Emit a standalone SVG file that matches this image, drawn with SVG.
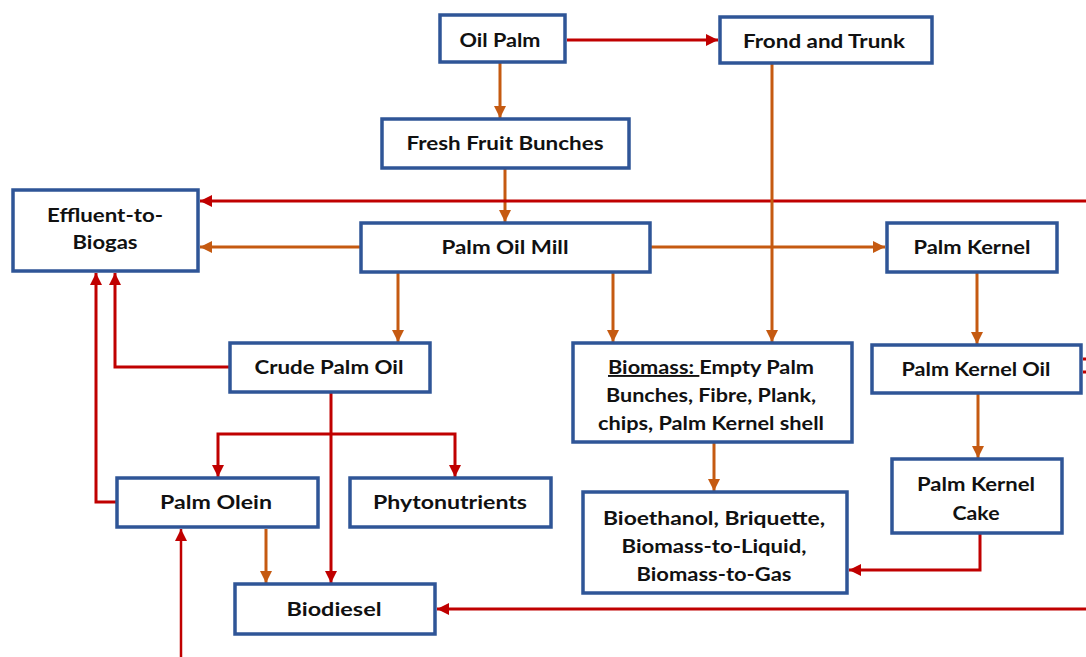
<svg xmlns="http://www.w3.org/2000/svg" width="1086" height="657" viewBox="0 0 1086 657">
<style>
.box{fill:#fff;stroke:#2F5597;stroke-width:3.5}
.t{font-family:Lato,"Open Sans","Liberation Sans",sans-serif;font-weight:bold;font-size:19px;fill:#111;text-anchor:middle}
.o{fill:none;stroke:#C55A11;stroke-width:3;marker-end:url(#ao)}
.r{fill:none;stroke:#C00000;stroke-width:3;marker-end:url(#ar)}
</style>
<defs>
<marker id="ao" markerUnits="userSpaceOnUse" markerWidth="14" markerHeight="14" refX="12" refY="6" orient="auto"><path d="M0,0 L12,6 L0,12 Z" fill="#C55A11"/></marker>
<marker id="ar" markerUnits="userSpaceOnUse" markerWidth="14" markerHeight="14" refX="12" refY="6" orient="auto"><path d="M0,0 L12,6 L0,12 Z" fill="#C00000"/></marker>
</defs>
<rect width="1086" height="657" fill="#fff"/>
<g id="connectors">
<path class="r" d="M567,40 H718"/>
<path class="o" d="M500,63 V118"/>
<path class="o" d="M505,169 V222"/>
<path class="r" d="M1086,201 H200"/>
<path class="o" d="M361,247 H200"/>
<path class="o" d="M650,247 H885"/>
<path class="o" d="M772,63 V342"/>
<path class="o" d="M398,272 V342"/>
<path class="o" d="M613,272 V342"/>
<path class="o" d="M977,272 V344"/>
<path class="o" d="M978,394 V458"/>
<path class="o" d="M714,443 V491"/>
<path class="r" d="M980,534 V570 H849"/>
<path class="r" d="M230,367 H115 V273"/>
<path class="r" d="M117,502 H96 V273"/>
<path class="r" d="M331,393 V583"/>
<path class="r" d="M331,434 H218 V477"/>
<path class="r" d="M331,434 H455 V477"/>
<path class="o" d="M266,529 V583"/>
<path class="r" d="M181,657 V529" style="stroke-width:2.5"/>
<path class="r" d="M1086,609 H437"/>
<path d="M1083,359 H1086 M1083,372 H1086" stroke="#C00000" stroke-width="3" fill="none"/>
</g>
<g id="oil-palm"><rect class="box" x="440" y="15" width="125" height="47"/><text class="t" x="500" y="47" textLength="81" lengthAdjust="spacingAndGlyphs">Oil Palm</text></g>
<g id="frond-trunk"><rect class="box" x="720" y="17" width="212" height="46"/><text class="t" x="824" y="48" textLength="162" lengthAdjust="spacingAndGlyphs">Frond and Trunk</text></g>
<g id="ffb"><rect class="box" x="382" y="119" width="247" height="49"/><text class="t" x="505" y="150" textLength="197" lengthAdjust="spacingAndGlyphs">Fresh Fruit Bunches</text></g>
<g id="effluent"><rect class="box" x="13" y="190" width="185" height="81"/><text class="t" x="105" y="222" textLength="116" lengthAdjust="spacingAndGlyphs">Effluent-to-</text><text class="t" x="105" y="249" textLength="65" lengthAdjust="spacingAndGlyphs">Biogas</text></g>
<g id="pom"><rect class="box" x="361" y="223" width="289" height="49"/><text class="t" x="505" y="254" textLength="127" lengthAdjust="spacingAndGlyphs">Palm Oil Mill</text></g>
<g id="palm-kernel"><rect class="box" x="887" y="223" width="170" height="49"/><text class="t" x="972" y="254" textLength="117" lengthAdjust="spacingAndGlyphs">Palm Kernel</text></g>
<g id="cpo"><rect class="box" x="230" y="343" width="200" height="49"/><text class="t" x="329" y="374" textLength="149" lengthAdjust="spacingAndGlyphs">Crude Palm Oil</text></g>
<g id="biomass"><rect class="box" x="573" y="343" width="279" height="99"/>
<text class="t" x="711" y="374" textLength="206" lengthAdjust="spacingAndGlyphs"><tspan text-decoration="underline">Biomass: </tspan>Empty Palm</text>
<text class="t" x="711" y="402" textLength="210" lengthAdjust="spacingAndGlyphs">Bunches, Fibre, Plank,</text>
<text class="t" x="711" y="430" textLength="226" lengthAdjust="spacingAndGlyphs">chips, Palm Kernel shell</text></g>
<g id="pko"><rect class="box" x="872" y="345" width="209" height="48"/><text class="t" x="976" y="376" textLength="149" lengthAdjust="spacingAndGlyphs">Palm Kernel Oil</text></g>
<g id="palm-olein"><rect class="box" x="117" y="478" width="201" height="49"/><text class="t" x="216" y="509" textLength="112" lengthAdjust="spacingAndGlyphs">Palm Olein</text></g>
<g id="phyto"><rect class="box" x="350" y="478" width="201" height="49"/><text class="t" x="450" y="509" textLength="154" lengthAdjust="spacingAndGlyphs">Phytonutrients</text></g>
<g id="bioethanol"><rect class="box" x="583" y="492" width="264" height="101"/>
<text class="t" x="714" y="525" textLength="222" lengthAdjust="spacingAndGlyphs">Bioethanol, Briquette,</text>
<text class="t" x="714" y="553" textLength="185" lengthAdjust="spacingAndGlyphs">Biomass-to-Liquid,</text>
<text class="t" x="714" y="581" textLength="155" lengthAdjust="spacingAndGlyphs">Biomass-to-Gas</text></g>
<g id="pkc"><rect class="box" x="892" y="459" width="170" height="74"/><text class="t" x="976" y="491" textLength="118" lengthAdjust="spacingAndGlyphs">Palm Kernel</text><text class="t" x="976" y="520" textLength="47" lengthAdjust="spacingAndGlyphs">Cake</text></g>
<g id="biodiesel"><rect class="box" x="235" y="584" width="200" height="50"/><text class="t" x="334" y="616" textLength="95" lengthAdjust="spacingAndGlyphs">Biodiesel</text></g>
</svg>
